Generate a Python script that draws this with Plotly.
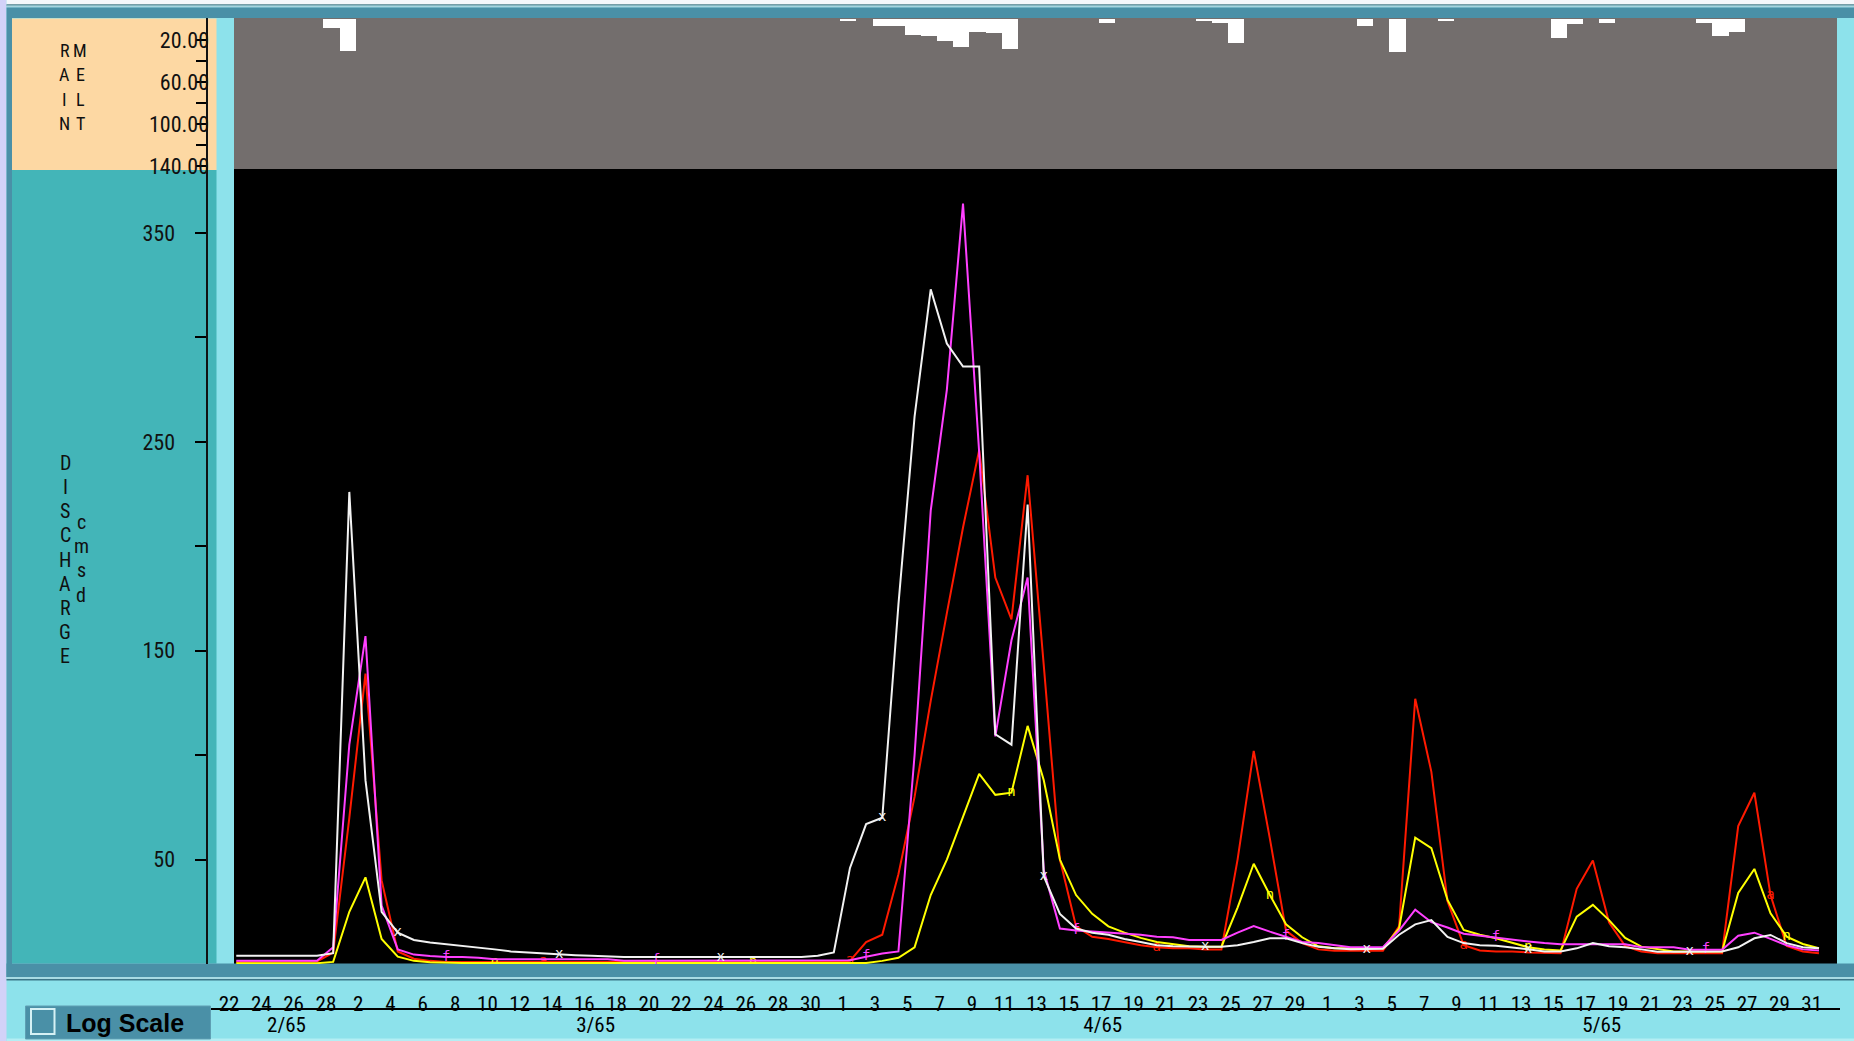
import pandas as pd
import plotly.graph_objects as go

W, FIG_H = 1854, 1041

# ---------------- data ----------------
day_dates = pd.date_range("1965-02-22 10:48", "1965-05-31 10:48", freq="D")  # one value per day

white_q = [4.0, 4.0, 4.0, 4.0, 4.0, 4.0,
           5.2, 226, 88, 25, 15,
           11.5, 10.3, 9.5, 8.8, 7.8, 7.0, 6.0, 5.5, 5.0, 4.6, 4.2, 3.9,
           3.5, 3.4, 3.3, 3.3, 3.3, 3.3, 3.3, 3.3, 3.3, 3.3, 3.3, 3.3, 3.4,
           4.0, 5.5, 46, 67, 70, 172, 262, 323, 297, 286, 286,
           110, 105, 220, 42, 24, 17, 15, 14, 12, 10.5, 9, 8.5,
           8.3, 8.3, 8.3, 9, 10.5, 12.3, 12.3, 10, 8.3, 7.5, 7.1, 7.1, 7.3,
           14, 19, 21, 13, 10, 9, 8.7, 8, 7.1, 6, 6, 7.5, 10, 8.5,
           8, 7, 5.9, 5.9, 5.9, 5.9, 6, 8, 12.3, 13.9, 10, 8, 7.5]

magenta_q = [1.5, 1.5, 1.5, 1.5, 1.5, 1.5,
             8, 105, 157, 28, 7,
             4.5, 3.8, 3.3, 3.3, 3.0,
             2.3, 2.3, 2.3, 2.3, 2.3, 2.3, 2.3, 2.3,
             1.6, 1.6, 1.6, 1.6, 1.6, 1.6, 1.6, 1.6, 1.6, 1.6, 1.6, 1.6, 1.6, 1.6,
             1.8, 3.5, 5, 6, 100, 217, 275, 364, 245,
             109, 155, 185, 45, 17, 16, 15.5, 15, 14.5, 14, 13, 12.8,
             11.5, 11.5, 11.5, 15, 18.2, 15.5, 13, 10.5, 10, 9, 8, 8, 8,
             16, 26, 20, 17.5, 14.5, 13.5, 12.5, 11.5, 10.8, 10, 9.5, 9.5, 9.5, 9.5,
             9.5, 8, 8, 8, 6.8, 6.8, 6.8, 13.5, 15, 12, 9, 7, 6.5]

red_q = [1.0, 1.0, 1.0, 1.0, 1.0,
         1.2, 5.5, 70, 139, 40, 6, 2.5, 1.5,
         1.0, 1.0, 1.0, 1.0, 1.0, 1.0, 1.0, 1.0, 1.0, 1.0, 1.0, 1.0, 1.0,
         1.0, 1.0, 1.0, 1.0, 1.0, 1.0, 1.0, 1.0, 1.0, 1.0, 1.0, 1.0,
         1.5, 10.5, 14, 43, 80, 126, 168, 209, 246,
         185, 165, 234, 143, 50, 18, 13, 12, 10.5, 9, 8, 7.5,
         7.5, 7, 7, 50, 102, 60, 16, 10, 7, 6.4, 6.4, 6.4, 6.4,
         18, 127, 92, 30, 9, 6.5, 6, 6, 5.5, 5.2, 5.2, 36, 49.5, 20,
         8.6, 6, 5.2, 5.2, 5.2, 5.2, 5.2, 66, 82, 33, 8.6, 6, 5.2]

yellow_q = [0.4, 0.4, 0.4, 0.4, 0.4, 0.4,
            1, 25, 41.5, 12, 3.5, 1.5, 0.8,
            0.5, 0.5, 0.5, 0.5, 0.5, 0.5, 0.5, 0.5, 0.5, 0.5, 0.5, 0.5, 0.5, 0.5,
            0.5, 0.5, 0.5, 0.5, 0.5, 0.5, 0.5, 0.5, 0.5, 0.5, 0.5, 0.5, 0.5,
            1.5, 3, 8, 33, 50, 70, 91,
            81, 82, 114, 88, 50, 33, 24, 18, 15, 12.5, 10.5, 9.5,
            8.5, 8.3, 8.3, 27, 48, 33, 19, 12.8, 8.5, 7.5, 7.5, 7.5, 7.5,
            17, 60.5, 55.5, 30.7, 16.3, 14, 12.3, 10, 8, 7, 6.5, 22.7, 28.3, 21,
            12.5, 8.3, 7, 6, 6, 6, 6, 34, 45.5, 24.3, 13.1, 9.6, 7.5]

rain_dates = ["1965-02-28", "1965-03-01", "1965-04-01", "1965-04-03", "1965-04-04",
              "1965-04-05", "1965-04-06", "1965-04-07", "1965-04-08", "1965-04-09",
              "1965-04-10", "1965-04-11", "1965-04-17", "1965-04-23", "1965-04-24",
              "1965-04-25", "1965-05-03", "1965-05-05", "1965-05-08", "1965-05-15",
              "1965-05-16", "1965-05-18", "1965-05-24", "1965-05-25", "1965-05-26"]
rain_mm = [8, 30, 1.5, 6.5, 6.5, 15, 16, 20.5, 26, 12, 13, 28, 3, 1, 3,
           22.7, 6.2, 31.3, 1.4, 17.3, 4.3, 3, 3, 15.4, 12]

q_tickvals = [50, 100, 150, 200, 250, 300, 350]
q_ticktext = ["50", "", "150", "", "250", "", "350"]
r_tickvals = [20, 40, 60, 80, 100, 120, 140]
r_ticktext = ["20.00", "", "60.00", "", "100.00", "", "140.00"]
month_pos = ["1965-02-25 13:26", "1965-03-16 16:48", "1965-04-17 02:24", "1965-05-18 00:00"]
month_text = ["2/65", "3/65", "4/65", "5/65"]

# symbol letters drawn along the curves
white_marks = [10, 20, 30, 40, 50, 60, 70, 80, 90]
magenta_marks = [13, 26, 39, 52, 65, 78, 91]
red_marks = [19, 38, 57, 76, 95]
yellow_marks = [16, 32, 48, 64, 80, 96]

# ---------------- helpers ----------------
def px(x):
    return x / W

def py(y):
    return 1 - y / FIG_H

NARROW = "Liberation Sans Narrow, Arial Narrow, Roboto Condensed, Liberation Sans, sans-serif"
SANS = "Liberation Sans, Arial, sans-serif"

C_LCYAN = "#8de2eb"
C_DTEAL = "#4a90a7"
C_TEAL = "#43b5b8"
C_PEACH = "#fdd8a3"
C_GREY = "#736e6d"

t0 = pd.Timestamp("1965-02-22")
PX_PER_DAY = 16.15
def t_at(xpix):          # date shown at a given pixel column
    return t0 + pd.Timedelta(days=(xpix - 229.0) / PX_PER_DAY)

x_range = [t_at(234), t_at(1837)]
lab_range = [t_at(210.6), t_at(1840)]

fig = go.Figure()

fig.add_trace(go.Bar(x=rain_dates, y=rain_mm, xaxis="x2", yaxis="y2",
                     width=86400000, offset=-0.15 * 86400000,
                     marker=dict(color="white", line=dict(width=0)),
                     hoverinfo="skip"))

def letters(n, idx, ch):
    return [ch if i in idx else "" for i in range(n)]

series = [
    (red_q, "#ff1a00", red_marks, "a"),
    (yellow_q, "#ffff00", yellow_marks, "n"),
    (magenta_q, "#ff40ff", magenta_marks, "f"),
    (white_q, "#f2f2f2", white_marks, "x"),
]
for vals, col, marks, ch in series:
    fig.add_trace(go.Scatter(
        x=day_dates, y=vals, mode="lines+text",
        text=letters(len(vals), marks, ch), textposition="middle center",
        textfont=dict(color=col, size=14, family="DejaVu Sans Mono"),
        line=dict(color=col, width=2), xaxis="x", yaxis="y",
        hoverinfo="skip"))

# empty carriers for the two label axes
for ax in ("x3", "x4"):
    fig.add_trace(go.Scatter(x=month_pos, y=[None] * len(month_pos), xaxis=ax, yaxis="y",
                             mode="markers", showlegend=False, hoverinfo="skip"))

shapes = []
def rect(x0, y0, x1, y1, color, layer="below", line=None):
    d = dict(type="rect", xref="paper", yref="paper",
             x0=px(x0), x1=px(x1), y0=py(y1), y1=py(y0),
             fillcolor=color, layer=layer, line=dict(width=0))
    if line:
        d["line"] = line
    shapes.append(d)

rect(0, 0, 6.5, FIG_H, "#d2d2f8")
rect(6.5, 0, W, 4.5, "#f4f7fb")
rect(6.5, 4.5, W, 5.5, "#2c4f5c")
rect(6.5, 5.5, W, 7.5, "#a8d4df")
rect(6.5, 7.5, W, 18, C_DTEAL)
rect(6.5, 18, 12, 977, C_DTEAL)
rect(12, 18.5, 216.5, 170, C_PEACH)
rect(12, 170, 216.5, 963.5, C_TEAL)
rect(234, 18, 1837, 169, C_GREY)
rect(234, 169, 1837, 964, "black")
rect(6.5, 963.5, W, 977, C_DTEAL)
rect(6.5, 977, W, 979, "#a8dbe4")
rect(6.5, 979, W, 980.5, "#3d7688")
rect(6.5, 1038.5, W, FIG_H, "#b4eef4")
rect(25.5, 1006, 210.5, 1039, C_DTEAL, line=dict(color="#5e9fb3", width=1))
rect(31, 1009, 54.5, 1034, C_DTEAL, line=dict(color="#d6f1f5", width=2))

annotations = []
def letter_col(text, xc, y_first, step, size):
    for i, ch in enumerate(text):
        annotations.append(dict(text=ch, xref="paper", yref="paper",
                                x=px(xc), y=py(y_first + i * step),
                                xanchor="center", yanchor="middle", showarrow=False,
                                borderpad=0,
                                font=dict(family=NARROW, size=size, color="#101010")))

letter_col("RAIN", 64.7, 50, 24.5, 18)
letter_col("MELT", 80.0, 50, 24.5, 18)
letter_col("DISCHARGE", 65, 462.8, 24.2, 20)
letter_col("cmsd", 81, 522, 24.2, 20)

annotations.append(dict(text="<b>Log Scale</b>", xref="paper", yref="paper",
                        x=px(64), y=py(1023), xanchor="left", yanchor="middle",
                        showarrow=False, font=dict(family=SANS, size=25, color="#000")))

fig.update_layout(
    width=W, height=FIG_H, autosize=False,
    margin=dict(l=0, r=0, t=0, b=0, pad=0, autoexpand=False),
    paper_bgcolor=C_LCYAN, plot_bgcolor="rgba(0,0,0,0)",
    showlegend=False, bargap=0,
    shapes=shapes, annotations=annotations,
    xaxis=dict(domain=[px(234), px(1837)], anchor="y", type="date", range=x_range,
               showticklabels=False, ticks="", showgrid=False, zeroline=False, showline=False,
               automargin=False),
    xaxis2=dict(domain=[px(234), px(1837)], anchor="y2", type="date", matches="x",
                showticklabels=False, ticks="", showgrid=False, zeroline=False,
                automargin=False),
    xaxis3=dict(domain=[px(210.6), px(1840)], anchor="free", type="date",
                position=py(1009), range=lab_range, automargin=False,
                tickvals=month_pos, ticktext=month_text, ticks="",
                showgrid=False, zeroline=False, showline=False,
                tickfont=dict(family=NARROW, size=21, color="black"),
                ticklabelstandoff=1),
    xaxis4=dict(domain=[px(210.6), px(1840)], anchor="free", type="date",
                position=py(1009), range=lab_range, automargin=False,
                tick0="1965-02-22", dtick=2 * 86400000, tickformat="%-d", ticks="",
                showgrid=False, zeroline=False, showline=True, linecolor="black",
                linewidth=1.6,
                tickfont=dict(family=NARROW, size=21, color="black"),
                ticklabelstandoff=-24),
    yaxis=dict(domain=[py(964), py(169)], range=[0, 380.6], anchor="free", position=px(206.5),
               tickvals=q_tickvals, ticktext=q_ticktext, ticks="outside", ticklen=11,
               tickwidth=1.5, tickcolor="black", showline=True, linecolor="#111",
               linewidth=2, showgrid=False, zeroline=False, automargin=False,
               tickfont=dict(family=NARROW, size=22, color="#111"),
               ticklabelstandoff=15),
    yaxis2=dict(domain=[py(169), py(18)], range=[142.4, -1.4], anchor="free", position=px(206.5),
                tickvals=r_tickvals, ticktext=r_ticktext, ticks="outside", ticklen=10,
                tickwidth=1.5, tickcolor="black", showline=True, linecolor="#111",
                linewidth=2, showgrid=False, zeroline=False, automargin=False,
                tickfont=dict(family=NARROW, size=22, color="#111"),
                ticklabelstandoff=-18),
)

fig.write_html("out.html")
